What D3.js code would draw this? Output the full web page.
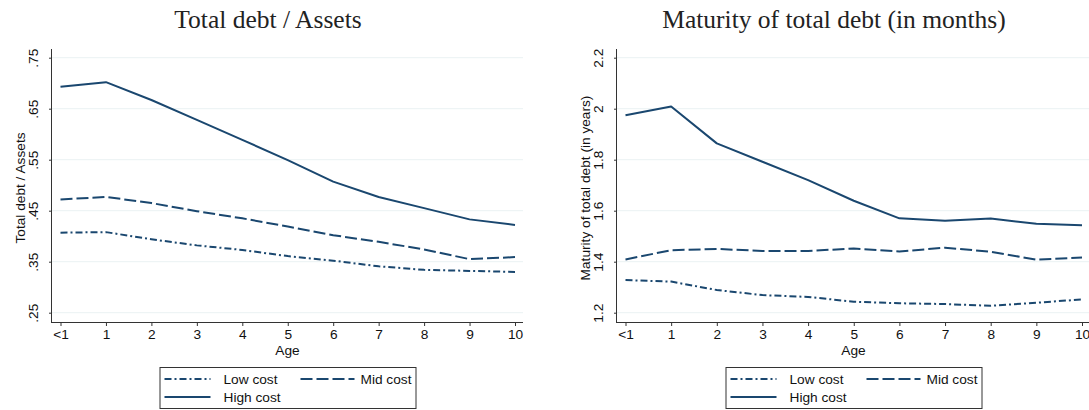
<!DOCTYPE html>
<html>
<head>
<meta charset="utf-8">
<script src="https://cdn.jsdelivr.net/npm/d3@7"></script>
<style>
  body { margin: 0; background: #fff; }
  svg { display: block; }
</style>
</head>
<body>
<div id="container"></div>
<script>
/* DATA */
const ageLabels = ["<1", "1", "2", "3", "4", "5", "6", "7", "8", "9", "10"];
const seriesNames = ["Low cost", "Mid cost", "High cost"];

// total debt / assets
const debtLow  = [0.407, 0.408, 0.394, 0.382, 0.373, 0.361, 0.352, 0.341, 0.334, 0.332, 0.330];
const debtMid  = [0.472, 0.477, 0.465, 0.449, 0.435, 0.419, 0.402, 0.389, 0.374, 0.355, 0.359];
const debtHigh = [0.693, 0.702, 0.667, 0.628, 0.589, 0.549, 0.507, 0.477, 0.455, 0.433, 0.422];
const debtTicks = [0.25, 0.35, 0.45, 0.55, 0.65, 0.75];

// maturity of total debt
const matLow  = [1.328, 1.322, 1.289, 1.269, 1.262, 1.243, 1.237, 1.234, 1.227, 1.239, 1.252];
const matMid  = [1.409, 1.445, 1.450, 1.442, 1.442, 1.452, 1.440, 1.455, 1.439, 1.408, 1.416];
const matHigh = [1.974, 2.009, 1.864, 1.792, 1.720, 1.639, 1.570, 1.561, 1.569, 1.549, 1.543];
const matTicks = [1.2, 1.4, 1.6, 1.8, 2, 2.2];

/* CONSTANTS */
const width = 1089, height = 410;
const navy = "#1a476f";
const dashes = ["7,3,2,3", "12,4", null];
const sans = "Liberation Sans, Arial, sans-serif";
const fs = "13.7px";

const svg = d3.select("#container")
  .append("svg")
  .attr("width", width)
  .attr("height", height);

function panel(opt) {
  const g = svg.append("g");
  const x0 = opt.left, x1 = opt.right;   // axis line extent
  const top = 49, bottom = 322;

  const xScale = d3.scaleLinear()
    .domain([0, 10])
    .range([x0 + 8.5, x1 - 8]);
  const yScale = d3.scaleLinear()
    .domain(opt.yDomain)
    .range([312.7, 57.7]);

  // gridlines
  g.selectAll("line.grid")
    .data(opt.ticks)
    .join("line")
    .attr("class", "grid")
    .attr("x1", x0).attr("x2", x1)
    .attr("y1", d => yScale(d)).attr("y2", d => yScale(d))
    .attr("stroke", "#eaf2f3")
    .attr("stroke-width", 1);

  // y axis
  const yAxis = d3.axisLeft(yScale)
    .tickValues(opt.ticks)
    .tickSize(3)
    .tickFormat(opt.fmt);
  const ya = g.append("g")
    .attr("transform", `translate(${x0},0)`)
    .call(yAxis);
  ya.select(".domain").attr("d", `M-0.5,${top}V${bottom}`).attr("stroke", "#333");
  ya.selectAll(".tick line").attr("stroke", "#333");
  ya.selectAll(".tick text")
    .attr("transform", "rotate(-90)")
    .attr("x", 0)
    .attr("y", -14)
    .attr("dy", 0)
    .attr("text-anchor", "middle")
    .style("font-family", sans)
    .style("font-size", fs)
    .attr("fill", "#111");

  // x axis
  const xAxis = d3.axisBottom(xScale)
    .tickValues(d3.range(ageLabels.length))
    .tickSize(4)
    .tickFormat(i => ageLabels[i]);
  const xa = g.append("g")
    .attr("transform", `translate(0,${bottom})`)
    .call(xAxis);
  xa.select(".domain").attr("d", `M${x0 - 1},0.5H${x1}`).attr("stroke", "#333");
  xa.selectAll(".tick line").attr("stroke", "#333");
  xa.selectAll(".tick text")
    .attr("y", 7)
    .attr("dy", "0.71em")
    .style("font-family", sans)
    .style("font-size", fs)
    .attr("fill", "#111");

  // axis titles
  g.append("text")
    .attr("x", (x0 + x1) / 2)
    .attr("y", 355)
    .attr("text-anchor", "middle")
    .style("font-family", sans)
    .style("font-size", fs)
    .attr("fill", "#111")
    .text("Age");

  g.append("text")
    .attr("transform", `translate(${x0 - 27},188) rotate(-90)`)
    .attr("text-anchor", "middle")
    .style("font-family", sans)
    .style("font-size", fs)
    .attr("fill", "#111")
    .text(opt.yTitle);

  // title
  g.append("text")
    .attr("x", opt.titleX)
    .attr("y", 28)
    .attr("text-anchor", "middle")
    .style("font-family", "Liberation Serif, Times New Roman, serif")
    .style("font-size", "25.5px")
    .attr("fill", "#222")
    .text(opt.title);

  // lines
  const line = d3.line()
    .x((d, i) => xScale(i))
    .y(d => yScale(d));

  g.selectAll("path.series")
    .data(opt.series)
    .join("path")
    .attr("class", "series")
    .attr("d", d => line(d))
    .attr("fill", "none")
    .attr("stroke", navy)
    .attr("stroke-width", 2)
    .attr("stroke-linejoin", "round")
    .attr("stroke-dasharray", (d, i) => dashes[i]);

  // legend
  const bw = 256, bx = (x0 + x1) / 2 - bw / 2, by = 367;
  const leg = g.append("g").attr("transform", `translate(${bx},${by})`);
  leg.append("rect")
    .attr("x", 0.5).attr("y", 0.5)
    .attr("width", bw).attr("height", 41)
    .attr("fill", "#fff")
    .attr("stroke", "#333");

  const items = [
    { x: 5, tx: 64, y: 12, len: 46 },
    { x: 141, tx: 201, y: 12, len: 54 },
    { x: 5, tx: 64, y: 30, len: 46 }
  ];
  items.forEach((it, i) => {
    leg.append("line")
      .attr("x1", it.x).attr("x2", it.x + it.len)
      .attr("y1", it.y).attr("y2", it.y)
      .attr("stroke", navy)
      .attr("stroke-width", 2)
      .attr("stroke-dasharray", dashes[i]);
    leg.append("text")
      .attr("x", it.tx)
      .attr("y", it.y)
      .attr("dy", "0.36em")
      .style("font-family", sans)
      .style("font-size", fs)
      .attr("fill", "#111")
      .text(seriesNames[i]);
  });
}

panel({
  left: 52, right: 523,
  yDomain: [0.25, 0.75],
  ticks: debtTicks,
  fmt: d => d3.format(".2f")(d).replace(/^0/, ""),
  yTitle: "Total debt / Assets",
  title: "Total debt / Assets",
  titleX: 268,
  series: [debtLow, debtMid, debtHigh]
});

panel({
  left: 617, right: 1090,
  yDomain: [1.2, 2.2],
  ticks: matTicks,
  fmt: d => String(+d.toFixed(1)),
  yTitle: "Maturity of total debt (in years)",
  title: "Maturity of total debt (in months)",
  titleX: 834,
  series: [matLow, matMid, matHigh]
});
</script>
</body>
</html>
